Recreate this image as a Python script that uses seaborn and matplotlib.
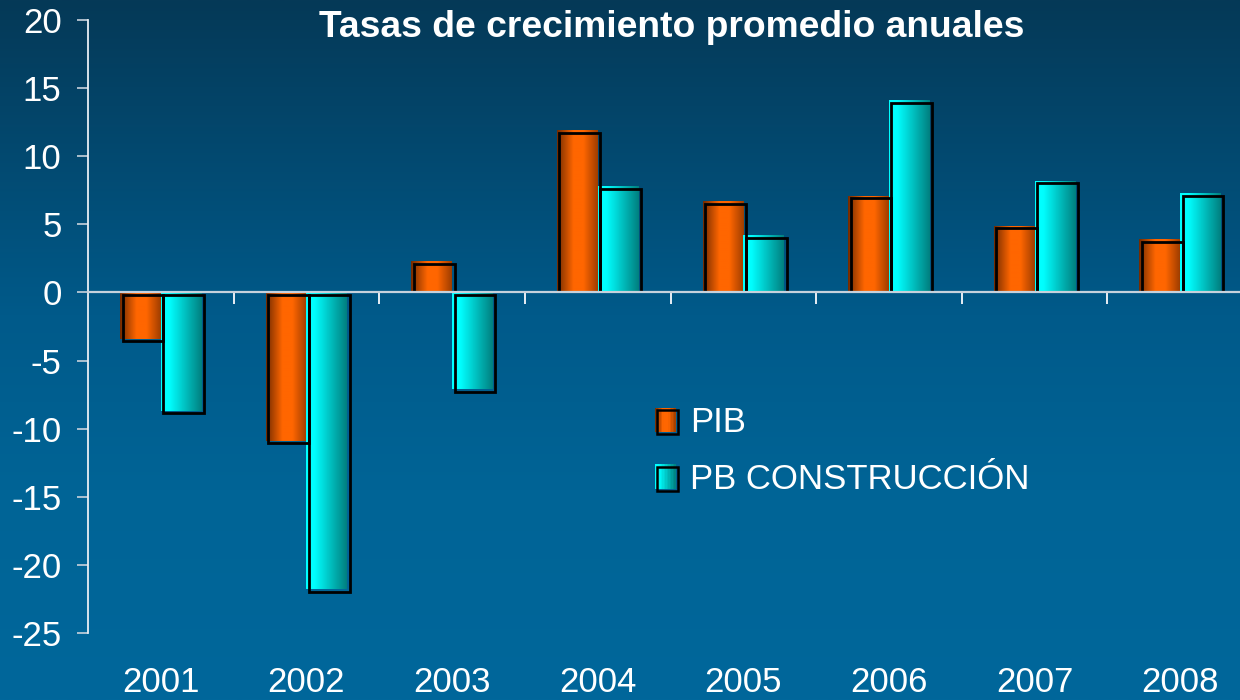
import numpy as np
import pandas as pd
import matplotlib
matplotlib.use("Agg")
import matplotlib.pyplot as plt
import seaborn as sns
from matplotlib.colors import LinearSegmentedColormap
from matplotlib.patches import Rectangle
from matplotlib.transforms import offset_copy
from matplotlib.ticker import FixedLocator
from matplotlib.legend_handler import HandlerBase

# ---------------- data ----------------
years = ["2001", "2002", "2003", "2004", "2005", "2006", "2007", "2008"]
pib = [-3.4, -10.9, 2.3, 11.9, 6.7, 7.1, 4.9, 3.9]
construccion = [-8.7, -21.8, -7.1, 7.8, 4.2, 14.1, 8.2, 7.3]
series = ["PIB", "PB CONSTRUCCIÓN"]
title = "Tasas de crecimiento promedio anuales"
yticks = [-25, -20, -15, -10, -5, 0, 5, 10, 15, 20]

df = pd.DataFrame({
    "Año": years * 2,
    "valor": pib + construccion,
    "serie": [series[0]] * len(years) + [series[1]] * len(years),
})

# ---------------- style ----------------
sns.set_theme(style="white")
plt.rcParams["font.family"] = ["Liberation Sans", "DejaVu Sans"]
plt.rcParams["axes.unicode_minus"] = False

W, H = 1240, 700
fig = plt.figure(figsize=(W / 100, H / 100), dpi=100)

# background gradient
bg = fig.add_axes([0, 0, 1, 1], zorder=-10)
bg.axis("off")
cmap_bg = LinearSegmentedColormap.from_list("bg", [
    (0.0, (5 / 255, 57 / 255, 87 / 255)),
    (0.45, (0 / 255, 90 / 255, 138 / 255)),
    (0.7, (0 / 255, 100 / 255, 150 / 255)),
    (1.0, (0 / 255, 103 / 255, 155 / 255)),
])
bg.imshow(np.linspace(0, 1, 256).reshape(-1, 1), aspect="auto", cmap=cmap_bg,
          extent=[0, 1, 0, 1], origin="upper")
bg.set_xlim(0, 1)
bg.set_ylim(0, 1)

# main axes
ax = fig.add_axes([88 / W, 1 - 633 / H, (1253 - 88) / W, 613 / H])
ax.patch.set_alpha(0)

colors = ["#ff6600", "#00f0f0"]
sns.barplot(data=df, x="Año", y="valor", hue="serie", palette=colors,
            width=0.56, saturation=1, edgecolor="black", linewidth=1.5,
            ax=ax, zorder=3)

ax.set_xlim(-0.5, 7.5)
ax.set_ylim(-25, 20)

cmap_or = LinearSegmentedColormap.from_list("or", [
    (0.0, (0.45, 0.17, 0.0)),
    (0.4, (1.0, 0.40, 0.0)),
    (0.65, (1.0, 0.40, 0.0)),
    (1.0, (0.62, 0.24, 0.0)),
])
cmap_cy = LinearSegmentedColormap.from_list("cy", [
    (0.0, (0.0, 1.0, 1.0)),
    (0.2, (0.0, 1.0, 1.0)),
    (1.0, (0.0, 0.50, 0.50)),
])
grad = np.linspace(0, 1, 128).reshape(1, -1)
frame_tr = offset_copy(ax.transData, fig=fig, x=2.5, y=-2.5, units="dots")

for cont, cm in zip(ax.containers, [cmap_or, cmap_cy]):
    for bar in cont:
        x0, w = bar.get_x(), bar.get_width()
        y0, h = bar.get_y(), bar.get_height()
        lo, hi = min(y0, y0 + h), max(y0, y0 + h)
        im = ax.imshow(grad, cmap=cm, extent=[x0, x0 + w, lo, hi],
                       aspect="auto", zorder=3.5, interpolation="bilinear")
        im.set_clip_path(bar)
        bar.set_edgecolor("none")
        frame = Rectangle((x0, y0), w, h, fill=False, edgecolor="black",
                          linewidth=2.0, zorder=4, transform=frame_tr)
        ax.add_patch(frame)
        # keep the frame on its own side of the zero line
        clip = Rectangle((x0 - 0.2, 0), w + 0.4, 40 if h >= 0 else -40,
                         transform=ax.transData)
        frame.set_clip_path(clip)

ax.set_xlim(-0.5, 7.5)
ax.set_ylim(-25, 20)
ax.set_xlabel("")
ax.set_ylabel("")

# spines / ticks
for s in ["top", "right"]:
    ax.spines[s].set_visible(False)
ax.spines["left"].set_color("#e8eef4")
ax.spines["left"].set_linewidth(1.3)
ax.spines["bottom"].set_position(("data", 0))
ax.spines["bottom"].set_color("#c8d2dc")
ax.spines["bottom"].set_linewidth(1.6)
ax.spines["bottom"].set_zorder(5)

ax.set_yticks(yticks)
ax.tick_params(axis="y", which="major", left=True, direction="out", length=8,
               width=1.2, color="#c8d2dc", labelsize=25, labelcolor="white", pad=11)
ax.xaxis.set_minor_locator(FixedLocator(np.arange(0.5, 7.0, 1.0)))
ax.tick_params(axis="x", which="minor", bottom=True, direction="out", length=8.5,
               width=1.4, color="#e8eef4")
ax.tick_params(axis="x", which="major", bottom=True, length=0, labelsize=25,
               labelcolor="white", pad=269)

# title
fig.text(671.5 / W, 1 - 37 / H, title, ha="center", va="baseline",
         fontsize=26.8, fontweight="bold", color="white")


# legend with gradient swatches
class GradHandler(HandlerBase):
    def __init__(self, cmap, n=14):
        super().__init__()
        self.cmap = cmap
        self.n = n

    def create_artists(self, legend, orig_handle, xdescent, ydescent,
                       width, height, fontsize, trans):
        arts = []
        x0, y0 = -xdescent, -ydescent
        for i in range(self.n):
            arts.append(Rectangle((x0 + width * i / self.n, y0),
                                  width / self.n * 1.08, height,
                                  facecolor=self.cmap((i + 0.5) / self.n),
                                  edgecolor="none", transform=trans))
        arts.append(Rectangle((x0 + 1.6, y0 - 1.6), width, height, fill=False,
                              edgecolor="black", linewidth=1.8, transform=trans))
        return arts


handles, labels = ax.get_legend_handles_labels()
ax.legend(handles, labels, loc="upper left",
          handler_map={handles[0]: GradHandler(cmap_or),
                       handles[1]: GradHandler(cmap_cy)},
          bbox_to_anchor=(655 / W, 1 - 406 / H), bbox_transform=fig.transFigure,
          frameon=False, fontsize=25, labelcolor="white", borderpad=0,
          borderaxespad=0, handlelength=0.6, handleheight=0.7,
          handletextpad=0.42, labelspacing=0.68)

fig.savefig("out.png", dpi=100)
